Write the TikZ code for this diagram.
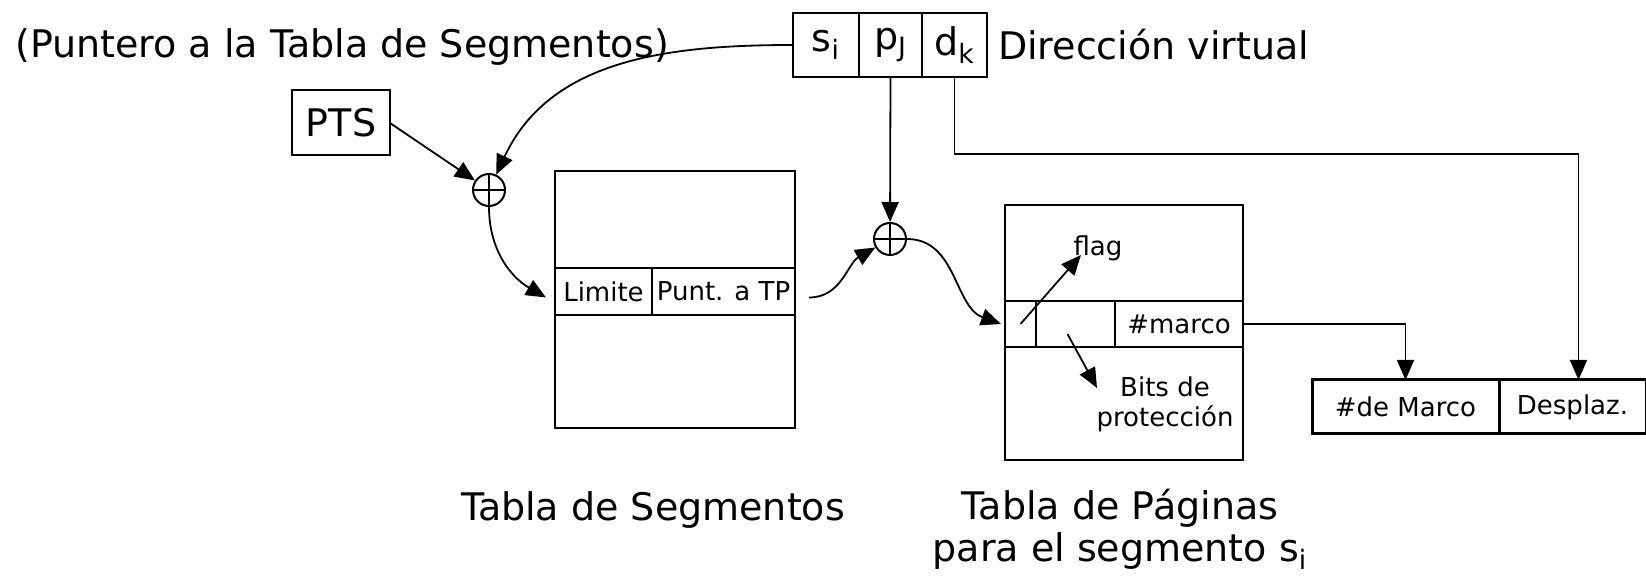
\documentclass[tikz,border=0pt]{standalone}
\usepackage{fontspec}
\setmainfont{DejaVu Sans}
\usetikzlibrary{arrows.meta,positioning}

\begin{document}
\begin{tikzpicture}[x=0.5pt,y=-0.5pt,
  big/.style={font=\fontsize{19}{21}\selectfont},
  sml/.style={font=\fontsize{13}{15}\selectfont},
  cell/.style={draw,line width=1pt,inner sep=0pt,outer sep=0pt},
  sum/.style={draw,circle,line width=1pt,minimum size=16pt,inner sep=0pt},
  arr/.style={line width=0.9pt,-{Triangle[length=10pt,width=8.5pt]}}]
\useasboundingbox (0,0) rectangle (1646,576);
\node[big] (ptsl) at (342,47) {(Puntero a la Tabla de Segmentos)};
\node[cell,big,minimum width=33pt,minimum height=32pt] (si) at (826,45) {s\textsubscript{i}};
\node[cell,big,minimum width=31.5pt,minimum height=32pt,right=0pt of si] (pj) {p\textsubscript{J}};
\node[cell,big,minimum width=32.5pt,minimum height=32pt,right=0pt of pj] (dk) {d\textsubscript{k}};
\node[big,right=2pt of dk] (dirv) {Dirección virtual};
\node[cell,big,minimum width=49pt,minimum height=32.5pt] (pts) at (341,123) {PTS};
\node[sum] (s1) at (489,190) {};
\draw[line width=1pt] (s1.north) -- (s1.south) (s1.west) -- (s1.east);
\draw[line width=1pt] (555,171) rectangle (795,428);
\node[cell,sml,minimum width=48.5pt,minimum height=23.5pt,anchor=north west] (lim) at (555,268) {Limite};
\node[cell,sml,minimum width=71.5pt,minimum height=23.5pt,right=0pt of lim] (punt) {Punt. a TP};
\node[sum] (s2) at (890,239) {};
\draw[line width=1pt] (s2.north) -- (s2.south) (s2.west) -- (s2.east);
\draw[line width=1pt] (1005,205) rectangle (1243,460);
\node[cell,minimum width=15.5pt,minimum height=23pt,anchor=north west] (flg) at (1005,301) {};
\node[cell,minimum width=39.5pt,minimum height=23pt,right=0pt of flg] (prot) {};
\node[cell,sml,minimum width=64pt,minimum height=23pt,right=0pt of prot] (marco) {\#marco};
\node[sml] (flagl) at (1098,248) {flag};
\coordinate (flagtip) at (1081,255);
\draw[arr] (flg.center) -- (flagtip);
\node[sml,align=center] (bits) at (1165,404) {Bits de\\protección};
\coordinate (bitstip) at (1097,388);
\draw[arr] ([shift={(-4pt,-5pt)}]prot.center) -- (bitstip);
\node[cell,sml,line width=1.5pt,minimum width=93.5pt,minimum height=27pt,anchor=north west] (frm) at (1312,380) {\#de Marco};
\node[cell,sml,line width=1.5pt,minimum width=73.5pt,minimum height=27pt,right=0pt of frm] (desp) {Desplaz.};
\draw[arr] (si.west) to[out=180,in=65] (s1);
\draw[arr] (pts.east) -- (s1);
\draw[arr] (s1.south) to[out=-90,in=150] ([shift={(-4.5pt,-3pt)}]lim.west);
\draw[arr] ([shift={(7pt,-3pt)}]punt.east) to[out=0,in=210] (s2);
\draw[arr] (pj.south) -- (s2);
\draw[arr] (s2.east) to[out=0,in=160] ([xshift=-2pt]flg.west);
\draw[arr] (marco.east) -| (frm.north);
\draw[arr] (dk.south) -- ++(0,77) -| ([xshift=3pt]desp.north);
\node[big] (tseg) at (653,510) {Tabla de Segmentos};
\node[big,align=center] (tpag) at (1120,529) {Tabla de Páginas\\para el segmento s\textsubscript{i}};
\end{tikzpicture}
\end{document}
